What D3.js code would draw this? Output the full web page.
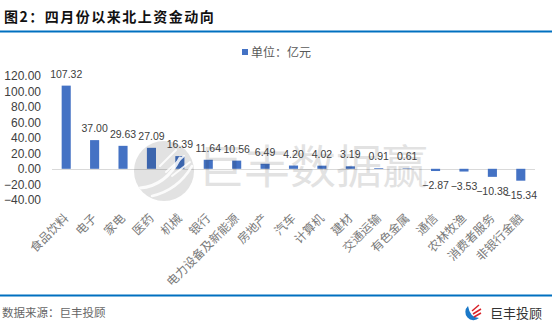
<!DOCTYPE html>
<html>
<head>
<meta charset="utf-8">
<script src="https://cdn.jsdelivr.net/npm/d3@7/dist/d3.min.js"></script>
<style>
  html, body { margin: 0; padding: 0; background: #fff; }
  svg { display: block; }
</style>
</head>
<body>
<svg id="chart" width="552" height="331"></svg>
<script>
// 四月份以来北上资金动向（单位：亿元）
const categories = ["食品饮料", "电子", "家电", "医药", "机械", "银行", "电力设备及新能源", "房地产",
  "汽车", "计算机", "建材", "交通运输", "有色金属", "通信", "农林牧渔", "消费者服务", "非银行金融"];
const netInflow = [107.32, 37.00, 29.63, 27.09, 16.39, 11.64, 10.56, 6.49,
  4.20, 4.02, 3.19, 0.91, 0.61, -2.87, -3.53, -10.38, -15.34];
const yTicks = [120, 100, 80, 60, 40, 20, 0, -20, -40];

const svg = d3.select("#chart");
const cjk = "'Noto Sans CJK SC', 'Noto Sans', sans-serif";
const num = "'Liberation Sans', Arial, sans-serif";

// Header
svg.append("text")
  .attr("x", 4).attr("y", 22)
  .attr("font-family", cjk).attr("font-weight", "bold")
  .attr("font-size", 14).attr("letter-spacing", 1.5)
  .attr("fill", "#111")
  .text("图2：四月份以来北上资金动向");
svg.append("rect").attr("x", 0).attr("y", 30.5).attr("width", 552).attr("height", 2).attr("fill", "#0070C0");

// Legend
svg.append("rect").attr("x", 242).attr("y", 49).attr("width", 6).attr("height", 6).attr("fill", "#4472C4");
svg.append("text")
  .attr("x", 251).attr("y", 56.5)
  .attr("font-family", cjk).attr("font-size", 12).attr("fill", "#595959")
  .text("单位：亿元");

// Scales
const x = d3.scaleBand().domain(categories).range([52, 535]).paddingInner(0.68).paddingOuter(0.34);
const y = d3.scaleLinear().domain([-40, 120]).range([199.8, 75.8]);

// Y axis labels
const yAxis = d3.axisLeft(y).tickValues(yTicks).tickFormat(d3.format(".2f")).tickSize(0).tickPadding(0);
const yg = svg.append("g").attr("transform", "translate(41,0)").call(yAxis);
yg.select(".domain").remove();
yg.selectAll("text")
  .attr("font-family", num).attr("font-size", 12).attr("fill", "#404040");

// Zero line
svg.append("line")
  .attr("x1", 52).attr("x2", 535)
  .attr("y1", Math.round(y(0)) + 0.5).attr("y2", Math.round(y(0)) + 0.5)
  .attr("stroke", "#d9d9d9").attr("stroke-width", 1);

// Bars
const data = categories.map((c, i) => ({ c, v: netInflow[i] }));
svg.append("g").selectAll("rect").data(data).join("rect")
  .attr("x", d => x(d.c))
  .attr("width", x.bandwidth())
  .attr("y", d => y(Math.max(0, d.v)))
  .attr("height", d => Math.abs(y(d.v) - y(0)))
  .attr("fill", "#4472C4");

// Watermark (semi-transparent, over the bars)
const wm = svg.append("g").attr("opacity", 0.11);
wm.append("circle").attr("cx", 164).attr("cy", 171).attr("r", 30).attr("fill", "#000");
wm.append("text")
  .attr("x", 198).attr("y", 183)
  .attr("font-family", cjk).attr("font-size", 46).attr("fill", "#000")
  .text("巨丰数据赢");
svg.append("clipPath").attr("id", "wmclip")
  .append("circle").attr("cx", 164).attr("cy", 171).attr("r", 30);
const sw = svg.append("g").attr("clip-path", "url(#wmclip)")
  .attr("fill", "none").attr("stroke", "#fff").attr("stroke-linecap", "round").attr("opacity", 0.85);
sw.append("path").attr("d", "M140,188 Q166,186 180,158").attr("stroke-width", 3);
sw.append("path").attr("d", "M152,196 Q178,190 192,166").attr("stroke-width", 2.5);
sw.append("path").attr("d", "M160,166 L176,150").attr("stroke-width", 2);
sw.append("path").attr("d", "M166,172 L184,156").attr("stroke-width", 2);
sw.append("path").attr("d", "M172,176 L190,162").attr("stroke-width", 2);

// Value labels
svg.append("g").selectAll("text").data(data).join("text")
  .attr("x", d => x(d.c) + x.bandwidth() / 2)
  .attr("y", d => d.v >= 0 ? y(d.v) - 8 : y(d.v) + 18)
  .attr("text-anchor", "middle")
  .attr("font-family", num).attr("font-size", 10.5).attr("fill", "#404040")
  .text(d => d3.format(".2f")(d.v));

// Category labels
svg.append("g").selectAll("text").data(categories).join("text")
  .attr("transform", d => `translate(${x(d) + x.bandwidth() / 2 + 3},219) rotate(-45)`)
  .attr("text-anchor", "end")
  .attr("font-family", cjk).attr("font-size", 12).attr("fill", "#7a7a7a")
  .text(d => d);

// Footer
svg.append("rect").attr("x", 0).attr("y", 294.5).attr("width", 552).attr("height", 2).attr("fill", "#0070C0");
svg.append("text")
  .attr("x", 2).attr("y", 317)
  .attr("font-family", cjk).attr("font-size", 11.5).attr("fill", "#666")
  .text("数据来源：巨丰投顾");
const logo = svg.append("g");
logo.append("path").attr("d", "M468,306 A7,7 0 1 0 479,318 Q470,318 468,306 Z").attr("fill", "#1a78c8");
logo.append("path").attr("d", "M472,311 L479,305 M473,314 L481,309 M474,317 L481,313")
  .attr("stroke", "#d9232a").attr("stroke-width", 1.5).attr("fill", "none");
svg.append("text")
  .attr("x", 490).attr("y", 318)
  .attr("font-family", cjk).attr("font-size", 13).attr("fill", "#333")
  .text("巨丰投顾");
</script>
</body>
</html>
